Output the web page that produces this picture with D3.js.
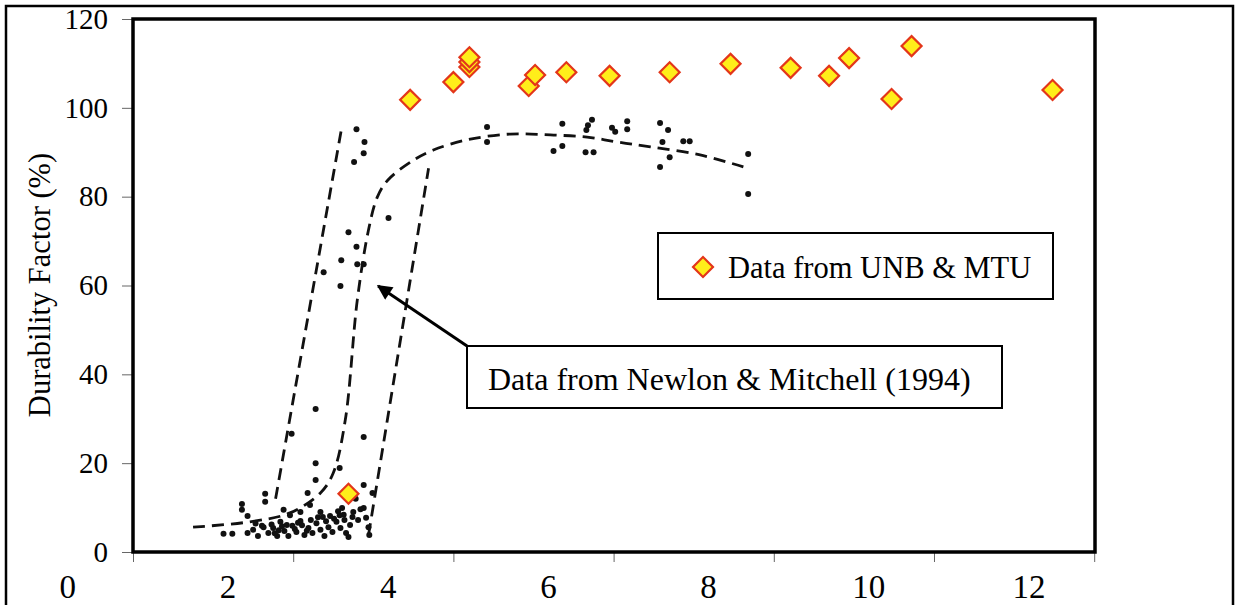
<!DOCTYPE html>
<html lang="en">
<head>
<meta charset="UTF-8">
<script src="https://d3js.org/d3.v7.min.js"></script>
<title>Durability Factor</title>
<style>
    body { margin: 0; background: white; }
    svg { display: block; font-family: "Liberation Serif", "Times New Roman", serif; }
</style>
</head>
<body>
<script>
    // UNB & MTU diamonds (x in axis-label units, durability factor %)
    const unbX = [3.51, 4.28, 4.82, 5.02, 5.02, 5.02, 5.76, 5.84, 6.23, 6.77, 7.52, 8.28, 9.03, 9.51, 9.76, 10.29, 10.54, 12.30];
    const unbY = [13.1, 101.8, 105.8, 109.2, 110.3, 111.4, 104.9, 107.4, 108.0, 107.2, 108.0, 109.9, 109.0, 107.2, 111.2, 102.0, 113.9, 104.0];

    // Newlon & Mitchell (1994) scatter, rising part
    const nmRiseX = [3.61, 3.71, 3.70, 3.58, 4.01, 3.51, 3.61, 3.42, 3.62, 3.70, 3.20, 3.41,
                     3.10, 2.80, 3.70, 3.10, 3.40, 3.10, 3.70, 3.00, 3.81, 2.47, 2.47, 2.18, 2.18, 2.25,
                     1.95, 2.06, 2.25, 3.70, 3.43, 3.63, 3.46, 3.48, 3.51,
                     2.32, 2.38, 2.43, 2.51, 2.57, 2.62, 2.66, 2.71, 2.76, 2.81, 2.86, 2.91, 2.96, 3.01,
                     3.06, 3.11, 3.16, 3.21, 3.26, 3.31, 3.36, 3.41, 3.40, 3.53, 3.57, 3.76, 3.77, 3.73,
                     3.16, 2.91, 3.03, 2.78, 2.70,
                     2.55, 2.64, 2.74, 2.84, 2.93, 3.04, 3.13, 3.23, 3.33, 3.45, 3.38, 3.28, 3.19, 2.99,
                     2.88, 2.68, 2.59, 2.45, 2.35, 3.50, 3.56, 3.66, 3.60];
    const nmRiseY = [95.2, 92.3, 89.8, 87.8, 75.2, 72.0, 68.7, 65.7, 64.8, 64.8, 63.0, 59.9,
                     32.2, 26.6, 25.9, 20.0, 18.9, 16.2, 15.1, 13.3, 13.3, 13.1, 11.3, 10.8, 9.5, 8.1,
                     4.1, 4.1, 4.3, 9.9, 9.9, 7.2, 7.2, 4.3, 3.4,
                     5.0, 3.6, 5.9, 4.3, 5.4, 3.6, 6.8, 4.7, 3.6, 5.9, 4.5, 7.0, 3.8, 5.4,
                     4.3, 6.5, 5.0, 3.6, 5.6, 4.5, 6.8, 5.4, 8.3, 6.1, 9.0, 5.6, 3.8, 7.7,
                     9.0, 9.0, 10.6, 8.3, 9.5,
                     6.2, 4.9, 6.1, 5.2, 6.0, 7.2, 7.8, 6.9, 7.5, 8.4, 9.2, 8.1, 7.9, 4.8,
                     6.6, 5.8, 4.2, 5.6, 6.4, 11.8, 7.9, 9.6, 12.0];

    // Newlon & Mitchell (1994) scatter, plateau
    const nmFlatX = [5.24, 5.24, 6.18, 6.07, 6.18, 6.47, 6.57, 6.50, 6.55, 6.48, 6.80, 6.84, 6.99, 6.99,
                     7.40, 7.50, 7.43, 7.52, 7.40, 7.69, 7.77, 8.50, 8.50];
    const nmFlatY = [95.7, 92.3, 96.4, 90.3, 91.4, 90.0, 90.0, 96.1, 97.3, 95.0, 95.5, 94.6, 97.0, 95.2,
                     96.6, 95.0, 92.3, 88.9, 86.7, 92.5, 92.5, 89.6, 80.6];

    // dashed fit curve and the two envelopes
    const fitX = [1.57, 2.28, 2.78, 3.16, 3.32, 3.47, 3.62, 3.76, 3.87, 4.00, 4.32, 4.57, 4.99, 5.53, 6.03, 6.49, 6.87, 7.28, 7.90, 8.44];
    const fitY = [5.6, 6.8, 8.8, 13.3, 17.8, 29.7, 56.7, 72.5, 79.9, 83.7, 88.2, 90.5, 92.8, 94.1, 93.9, 93.4, 92.3, 91.2, 89.4, 86.7];
    const leftEnvX = [2.60, 3.43];
    const leftEnvY = [12.0, 96.0];
    const rightEnvX = [3.76, 4.51];
    const rightEnvY = [3.8, 86.4];

    const xLabels = [0, 2, 4, 6, 8, 10, 12];
    const yTicks = [0, 20, 40, 60, 80, 100, 120];

    const W = 1236, H = 605;
    const frame = { left: 133, right: 1095, top: 19, bottom: 552 };
    const xMin = 0.82, xMax = 12.83;

    const svg = d3.select("body").append("svg")
        .attr("width", W)
        .attr("height", H);

    // outer border
    svg.append("rect")
        .attr("x", 6).attr("y", 6)
        .attr("width", 1227).attr("height", 610)
        .attr("fill", "none")
        .attr("stroke", "#000")
        .attr("stroke-width", 2.5);

    const x = d3.scaleLinear().domain([xMin, xMax]).range([frame.left, frame.right]);
    const y = d3.scaleLinear().domain([0, 120]).range([frame.bottom, frame.top]);

    // y axis
    const yAxis = svg.append("g")
        .attr("transform", `translate(${frame.left},0)`)
        .call(d3.axisLeft(y).tickValues(yTicks).tickSize(11).tickPadding(14));
    yAxis.select(".domain").remove();
    yAxis.selectAll("line").attr("stroke", "#666").attr("stroke-width", 1);
    yAxis.selectAll("text").attr("font-size", 29).attr("font-family", "Liberation Serif").attr("fill", "#000");

    // x tick marks (frame ticks) and shifted labels
    const xTickAxis = svg.append("g")
        .attr("transform", `translate(0,${frame.bottom})`)
        .call(d3.axisBottom(x).tickValues(d3.range(xMin, xMax + 0.01, 2)).tickSize(10).tickFormat(""));
    xTickAxis.select(".domain").remove();
    xTickAxis.selectAll("line").attr("stroke", "#666").attr("stroke-width", 1);

    const xLabelAxis = svg.append("g")
        .attr("transform", `translate(0,${frame.bottom})`)
        .call(d3.axisBottom(x).tickValues(xLabels).tickSize(0).tickPadding(23));
    xLabelAxis.select(".domain").remove();
    xLabelAxis.selectAll("text").attr("font-size", 33).attr("font-family", "Liberation Serif").attr("fill", "#000");

    // y title
    svg.append("text")
        .attr("transform", "translate(50,285) rotate(-90)")
        .attr("text-anchor", "middle")
        .attr("font-size", 30.5)
        .text("Durability Factor (%)");

    // dashed curves
    const dashed = (xs, ys, curve) => svg.append("path")
        .datum(d3.zip(xs, ys))
        .attr("d", d3.line().x(d => x(d[0])).y(d => y(d[1])).curve(curve))
        .attr("fill", "none")
        .attr("stroke", "#111")
        .attr("stroke-width", 2.8)
        .attr("stroke-dasharray", "12,7");
    dashed(leftEnvX, leftEnvY, d3.curveLinear);
    dashed(rightEnvX, rightEnvY, d3.curveLinear);
    dashed(fitX, fitY, d3.curveCatmullRom);

    // black dots
    const dots = d3.zip(nmRiseX, nmRiseY).concat(d3.zip(nmFlatX, nmFlatY));
    svg.append("g").selectAll("circle")
        .data(dots)
        .join("circle")
        .attr("cx", d => x(d[0]))
        .attr("cy", d => y(d[1]))
        .attr("r", 3)
        .attr("fill", "#111");

    // plot frame
    svg.append("rect")
        .attr("x", frame.left).attr("y", frame.top)
        .attr("width", frame.right - frame.left)
        .attr("height", frame.bottom - frame.top)
        .attr("fill", "none")
        .attr("stroke", "#000")
        .attr("stroke-width", 3.5);

    // diamonds
    const diamond = d3.symbol().type(d3.symbolSquare).size(200);
    svg.append("g").selectAll("path")
        .data(d3.zip(unbX, unbY))
        .join("path")
        .attr("d", diamond)
        .attr("transform", d => `translate(${x(d[0])},${y(d[1])}) rotate(45)`)
        .attr("fill", "#ffee1a")
        .attr("stroke", "#e3361a")
        .attr("stroke-width", 2.2);

    // legend box for UNB & MTU
    svg.append("rect")
        .attr("x", 658).attr("y", 233).attr("width", 395).attr("height", 66)
        .attr("fill", "#fff").attr("stroke", "#000").attr("stroke-width", 2);
    svg.append("path")
        .attr("d", diamond)
        .attr("transform", "translate(703,267) rotate(45)")
        .attr("fill", "#ffee1a")
        .attr("stroke", "#e3361a")
        .attr("stroke-width", 2.2);
    svg.append("text")
        .attr("x", 728).attr("y", 278)
        .attr("font-size", 30.5)
        .text("Data from UNB & MTU");

    // Newlon & Mitchell label box with arrow
    svg.append("rect")
        .attr("x", 467).attr("y", 346).attr("width", 535).attr("height", 62)
        .attr("fill", "#fff").attr("stroke", "#000").attr("stroke-width", 2);
    svg.append("text")
        .attr("x", 488).attr("y", 390)
        .attr("font-size", 32)
        .text("Data from Newlon & Mitchell (1994)");

    svg.append("defs").append("marker")
        .attr("id", "head")
        .attr("viewBox", "0 0 10 10")
        .attr("refX", 9).attr("refY", 5)
        .attr("markerWidth", 7).attr("markerHeight", 5)
        .attr("orient", "auto")
        .append("path")
        .attr("d", "M0,0 L10,5 L0,10 Z")
        .attr("fill", "#000");
    svg.append("line")
        .attr("x1", x(4.99)).attr("y1", y(46.4))
        .attr("x2", x(3.88)).attr("y2", y(59.9))
        .attr("stroke", "#000")
        .attr("stroke-width", 3)
        .attr("marker-end", "url(#head)");
</script>
</body>
</html>
